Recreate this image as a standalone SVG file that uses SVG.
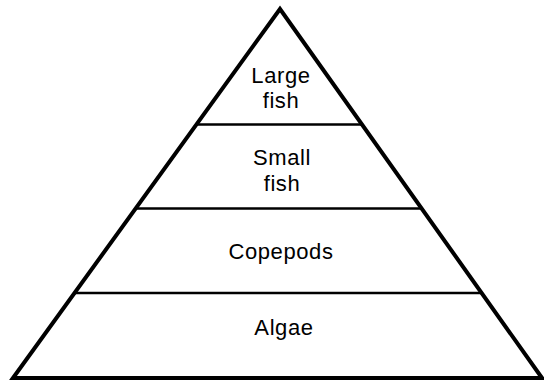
<svg xmlns="http://www.w3.org/2000/svg" width="544" height="383" viewBox="0 0 544 383">
<style>
.edge{fill:none;stroke:#000;stroke-width:4;stroke-linejoin:miter}
.div{stroke:#000;stroke-width:2.6}
.lbl{font-family:"Liberation Sans",Arial,sans-serif;font-size:22px;fill:#000;text-anchor:middle;letter-spacing:0.6px}
</style>
<rect width="544" height="383" fill="#fff"/>
<g id="connectors">
<path class="edge" d="M13,378 L280,9 L542,378 Z"/>
<line class="div" x1="197" y1="124.5" x2="362" y2="124.5"/>
<line class="div" x1="136" y1="208.5" x2="422" y2="208.5"/>
<line class="div" x1="75" y1="293" x2="482" y2="293"/>
</g>
<g id="large-fish"><text class="lbl" x="281" y="83">Large</text><text class="lbl" x="281" y="108">fish</text></g>
<g id="small-fish"><text class="lbl" x="282" y="165">Small</text><text class="lbl" x="282" y="191">fish</text></g>
<g id="copepods"><text class="lbl" x="281" y="259">Copepods</text></g>
<g id="algae"><text class="lbl" x="284" y="335">Algae</text></g>
</svg>
